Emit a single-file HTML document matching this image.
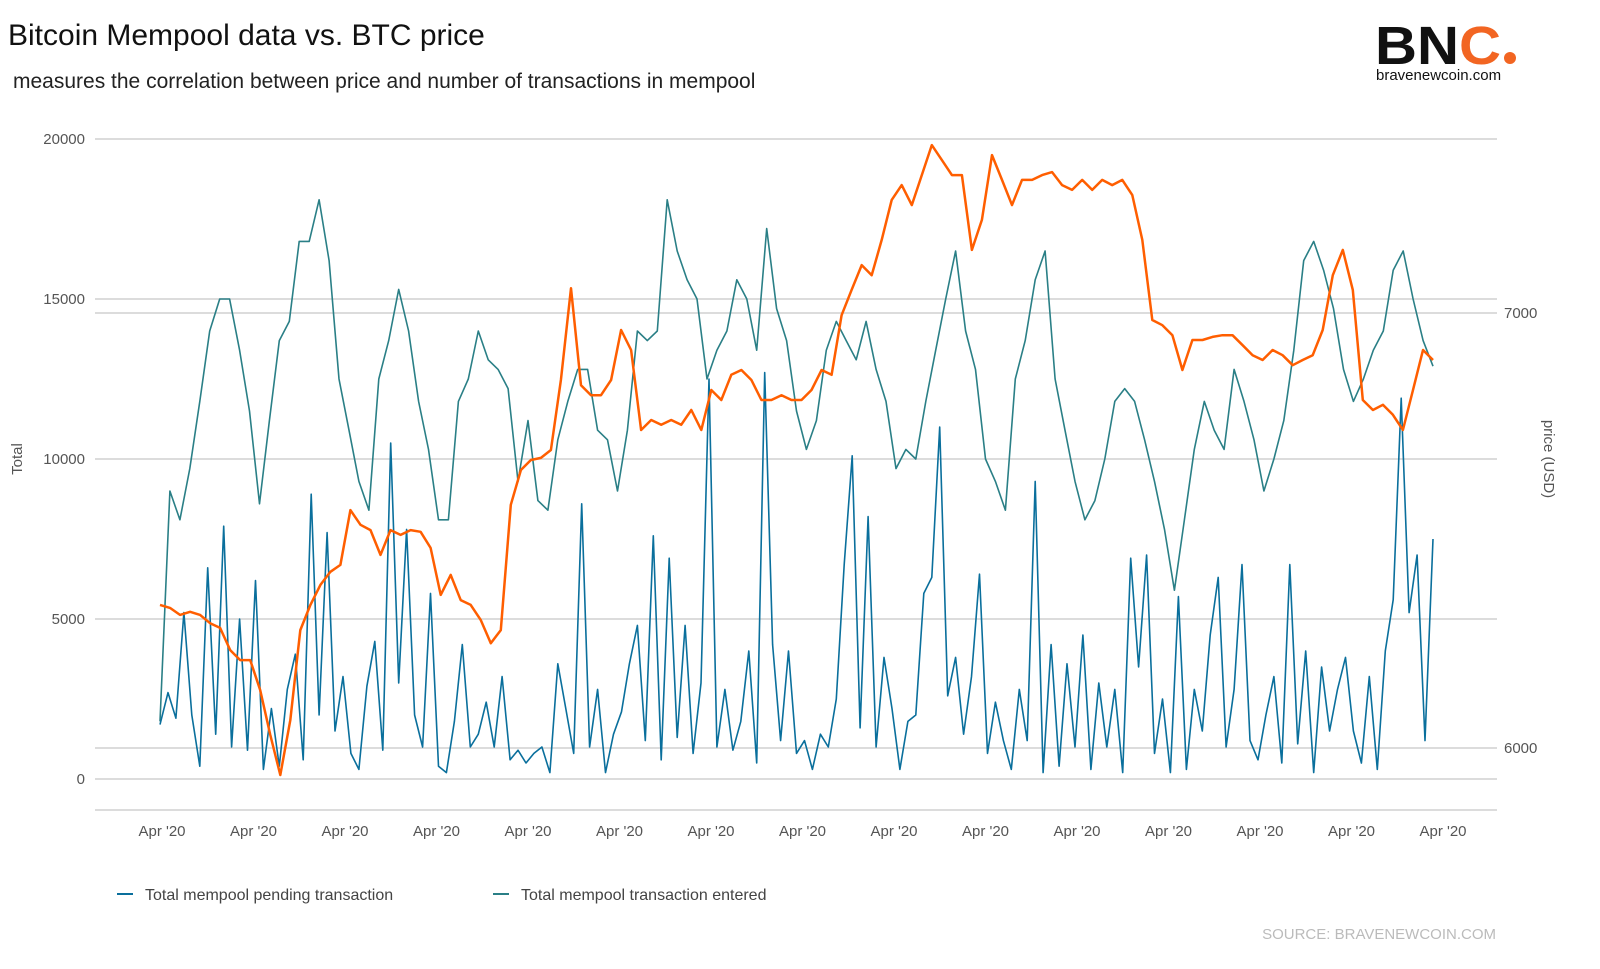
<!DOCTYPE html>
<html><head><meta charset="utf-8"><style>
body{margin:0;background:#fff;font-family:"Liberation Sans","DejaVu Sans",sans-serif;}
#wrap{position:relative;width:1600px;height:969px;overflow:hidden;}
</style></head><body>
<div id="wrap">
<svg id="chart" width="1600" height="969" xmlns="http://www.w3.org/2000/svg">
<text x="8" y="45" font-size="30" fill="#111">Bitcoin Mempool data vs. BTC price</text>
<text x="13" y="88" font-size="21" fill="#222">measures the correlation between price and number of transactions in mempool</text>
<g>
<text x="1375" y="64" font-size="54" font-weight="bold" fill="#111" textLength="126" lengthAdjust="spacingAndGlyphs">BN<tspan fill="#f26522">C</tspan></text>
<circle cx="1510" cy="58" r="6" fill="#f26522"/>
<text x="1376" y="80" font-size="15" fill="#111">bravenewcoin.com</text>
</g>
<g id="grid"></g>
<g id="axes"></g>
<g id="series"></g>
<text transform="translate(22,459) rotate(-90)" text-anchor="middle" font-size="15" fill="#555">Total</text>
<text transform="translate(1544,459) rotate(90)" text-anchor="middle" font-size="15" fill="#555">price (USD)</text>
<g>
<g><line x1="117" y1="894" x2="133" y2="894" stroke="#0a6f9c" stroke-width="2"/><text x="145" y="900" font-size="16" fill="#444">Total mempool pending transaction</text></g>
<g><line x1="493" y1="894" x2="509" y2="894" stroke="#2a7f86" stroke-width="2"/><text x="521" y="900" font-size="16" fill="#444">Total mempool transaction entered</text></g>
</g>
<text x="1496" y="939" text-anchor="end" font-size="15" fill="#bbb">SOURCE: BRAVENEWCOIN.COM</text>
</svg>
</div>
<script>
const leftTicks=[0,5000,10000,15000,20000];
const rightTicks=[6000,7000];
const xTickLabels=["Apr '20","Apr '20","Apr '20","Apr '20","Apr '20","Apr '20","Apr '20","Apr '20","Apr '20","Apr '20","Apr '20","Apr '20","Apr '20","Apr '20","Apr '20"];
const entered=[1.8,9.0,8.1,9.7,11.8,14.0,15.0,15.0,13.4,11.5,8.6,11.2,13.7,14.3,16.8,16.8,18.1,16.2,12.5,10.9,9.3,8.4,12.5,13.7,15.3,14.0,11.8,10.3,8.1,8.1,11.8,12.5,14.0,13.1,12.8,12.2,9.3,11.2,8.7,8.4,10.6,11.8,12.8,12.8,10.9,10.6,9.0,10.9,14.0,13.7,14.0,18.1,16.5,15.6,15.0,12.5,13.4,14.0,15.6,15.0,13.4,17.2,14.7,13.7,11.5,10.3,11.2,13.4,14.3,13.7,13.1,14.3,12.8,11.8,9.7,10.3,10.0,11.8,13.4,15.0,16.5,14.0,12.8,10.0,9.3,8.4,12.5,13.7,15.6,16.5,12.5,10.9,9.3,8.1,8.7,10.0,11.8,12.2,11.8,10.6,9.3,7.8,5.9,8.1,10.3,11.8,10.9,10.3,12.8,11.8,10.6,9.0,10.0,11.2,13.4,16.2,16.8,15.9,14.7,12.8,11.8,12.5,13.4,14.0,15.9,16.5,15.0,13.7,12.9];
const pending=[1.7,2.7,1.9,5.2,2.0,0.4,6.6,1.4,7.9,1.0,5.0,0.9,6.2,0.3,2.2,0.4,2.8,3.9,0.6,8.9,2.0,7.7,1.5,3.2,0.8,0.3,2.9,4.3,0.9,10.5,3.0,7.8,2.0,1.0,5.8,0.4,0.2,1.8,4.2,1.0,1.4,2.4,1.0,3.2,0.6,0.9,0.5,0.8,1.0,0.2,3.6,2.2,0.8,8.6,1.0,2.8,0.2,1.4,2.1,3.6,4.8,1.2,7.6,0.6,6.9,1.3,4.8,0.8,3.0,12.5,1.0,2.8,0.9,1.8,4.0,0.5,12.7,4.2,1.2,4.0,0.8,1.2,0.3,1.4,1.0,2.5,6.7,10.1,1.6,8.2,1.0,3.8,2.2,0.3,1.8,2.0,5.8,6.3,11.0,2.6,3.8,1.4,3.2,6.4,0.8,2.4,1.2,0.3,2.8,1.2,9.3,0.2,4.2,0.4,3.6,1.0,4.5,0.3,3.0,1.0,2.8,0.2,6.9,3.5,7.0,0.8,2.5,0.2,5.7,0.3,2.8,1.5,4.5,6.3,1.0,2.8,6.7,1.2,0.6,2.0,3.2,0.5,6.7,1.1,4.0,0.2,3.5,1.5,2.8,3.8,1.5,0.5,3.2,0.3,4.0,5.6,11.9,5.2,7.0,1.2,7.5];
const price=[6329,6322,6306,6313,6306,6287,6276,6225,6202,6202,6133,6030,5938,6064,6271,6329,6375,6405,6421,6547,6513,6501,6444,6501,6490,6501,6497,6460,6352,6398,6340,6329,6294,6241,6271,6559,6639,6662,6667,6685,6846,7057,6834,6811,6811,6846,6961,6915,6731,6754,6743,6754,6743,6777,6731,6823,6800,6858,6869,6846,6800,6800,6811,6800,6800,6823,6869,6858,6995,7053,7110,7087,7168,7260,7294,7248,7317,7386,7352,7317,7317,7145,7214,7363,7306,7248,7306,7306,7317,7324,7294,7283,7306,7283,7306,7294,7306,7271,7168,6984,6972,6949,6869,6938,6938,6945,6949,6949,6926,6903,6892,6915,6903,6880,6892,6903,6961,7087,7145,7053,6800,6777,6789,6766,6731,6823,6915,6892];

const NS="http://www.w3.org/2000/svg";
const yL=v=>779-v*0.032;
const yR=p=>748-(p-6000)*0.435;
const X0=160,X1=1433;
const xAt=(i,n)=>X0+(X1-X0)*i/(n-1);
function mk(tag,attrs,parent){const e=document.createElementNS(NS,tag);for(const k in attrs)e.setAttribute(k,attrs[k]);parent.appendChild(e);return e;}
const grid=document.getElementById('grid'),axes=document.getElementById('axes'),series=document.getElementById('series');
leftTicks.forEach(t=>{
  const l=mk('line',{x1:95,x2:1497,y1:yL(t),y2:yL(t),stroke:'#d0d0d0','stroke-width':1.5},grid);
  
  
  const tx=mk('text',{x:85,y:yL(t)+5,'text-anchor':'end','font-size':15,fill:'#555'},axes);
  tx.textContent=t;
  
  
});
rightTicks.forEach(t=>{
  const l=mk('line',{x1:95,x2:1497,y1:yR(t),y2:yR(t),stroke:'#d0d0d0','stroke-width':1.5},grid);
  
  
  const tx=mk('text',{x:1504,y:yR(t)+5,'font-size':15,fill:'#555'},axes);
  tx.textContent=t;
  
  
});
const base=mk('line',{x1:95,x2:1497,y1:810,y2:810,stroke:'#d0d0d0','stroke-width':1.5},grid);


xTickLabels.forEach((s,i)=>{
  const x=162+i*91.5;
  const tx=mk('text',{x:x,y:836,'text-anchor':'middle','font-size':15,fill:'#555'},axes);
  tx.textContent=s;
  
  
});
function line(arr,yf,color,w){
  const d=arr.map((v,i)=>(i?'L':'M')+xAt(i,arr.length).toFixed(1)+','+yf(v).toFixed(1)).join('');
  return mk('path',{d:d,fill:'none',stroke:color,'stroke-width':w,'stroke-linejoin':'round'},series);
}
const p1=line(entered,v=>yL(v*1000),'#2a7f86',1.6);


const p2=line(pending,v=>yL(v*1000),'#0a6f9c',1.6);


const p3=line(price,yR,'#ff5e00',2.5);


</script>
</body></html>
